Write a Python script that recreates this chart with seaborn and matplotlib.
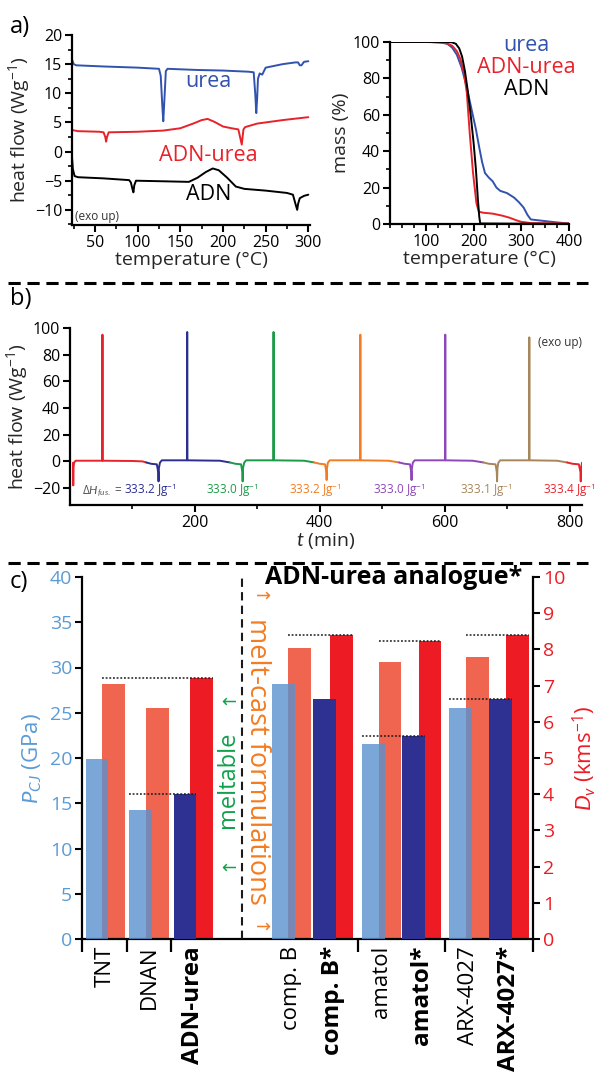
import matplotlib
matplotlib.use("Agg")
import matplotlib.pyplot as plt
from matplotlib.lines import Line2D
from matplotlib.ticker import MultipleLocator, FixedLocator
import pandas as pd
import seaborn as sns

# ---------------- data: panel a (DSC) ----------------
dsc_urea_T = [23, 25, 28, 60, 100, 125, 127, 129, 130, 131, 133, 135, 170, 200, 230, 236, 238, 239, 240, 241, 243, 246, 250, 270, 285, 288, 290, 292, 295, 300]
dsc_urea_H = [15.8, 15.0, 14.8, 14.6, 14.4, 14.2, 13.0, 7.5, 5.2, 8.0, 13.8, 14.2, 14.0, 13.9, 13.7, 13.6, 9.5, 6.6, 9.0, 12.5, 13.4, 13.2, 14.4, 15.0, 15.3, 15.3, 14.8, 14.8, 15.4, 15.5]
dsc_adnurea_T = [23, 30, 55, 60, 62, 63, 64, 66, 100, 130, 150, 165, 175, 182, 190, 200, 210, 218, 220, 222, 223, 224, 226, 240, 270, 300]
dsc_adnurea_H = [3.7, 3.5, 3.4, 3.3, 2.5, 1.7, 2.5, 3.3, 3.4, 3.6, 4.0, 4.8, 5.4, 5.6, 5.1, 4.3, 4.0, 3.8, 2.5, 1.2, 2.5, 3.8, 4.2, 4.8, 5.4, 5.9]
dsc_adn_T = [23, 24, 26, 30, 60, 90, 92, 94, 95, 96, 98, 130, 160, 170, 180, 188, 195, 205, 215, 225, 250, 275, 282, 285, 287, 288, 290, 295, 300]
dsc_adn_H = [-1.0, -3.0, -4.2, -4.4, -4.6, -4.9, -5.3, -6.5, -7.0, -5.8, -5.0, -5.1, -5.2, -4.5, -3.5, -2.9, -3.2, -4.5, -6.0, -6.4, -6.7, -7.1, -7.4, -9.0, -10.0, -9.0, -8.0, -7.6, -7.4]

# ---------------- data: panel a (TGA) ----------------
tga_urea_T = [25, 100, 130, 145, 155, 165, 175, 185, 195, 205, 212, 218, 224, 232, 240, 248, 256, 270, 285, 295, 305, 313, 320, 330, 350, 370, 390, 400]
tga_urea_M = [100, 100, 99.8, 99, 97, 93, 86, 76, 64, 52, 42, 34, 28, 25.5, 23.5, 20, 18.2, 17, 14.5, 12, 9, 5, 2.5, 2.2, 1.6, 1.0, 0.5, 0.4]
tga_adnurea_T = [25, 110, 140, 155, 165, 172, 180, 186, 192, 199, 206, 211, 220, 240, 260, 275, 290, 300, 320, 400]
tga_adnurea_M = [100, 100, 99.5, 98, 95, 91, 83, 72, 50, 28, 11.5, 6.8, 6.2, 5.7, 4.6, 3.5, 2.0, 1.2, 0.5, 0.3]
tga_adn_T = [25, 140, 155, 163, 170, 176, 182, 188, 194, 200, 205, 209, 212, 214, 400]
tga_adn_M = [100, 100, 99.8, 99, 96.5, 92, 84, 73, 60, 45, 30, 14, 4, 0.3, 0]

# ---------------- data: panel b (cycling DSC) ----------------
c1_t = [4.8, 5.2, 5.6, 6.5, 9, 51.5, 52.0, 52.5, 100, 116, 122]
c1_h = [-1, -18, -5, -1, 0.5, 0.5, 95, 0.5, 0.3, 0.0, -0.8]
c2_t = [122, 130, 139, 141.3, 141.8, 142.4, 144, 147, 187.3, 187.7, 188.1, 240, 256]
c2_h = [-0.8, -1.8, -2.2, -8, -15, -5, -1, 0.8, 0.8, 97, 0.8, 0.5, -0.8]
c3_t = [256, 265, 274, 276.0, 276.5, 277.1, 279, 282, 325.6, 326.0, 326.4, 375, 391]
c3_h = [-0.8, -1.8, -2.2, -8, -15, -5, -1, 0.8, 0.8, 97, 0.8, 0.5, -0.8]
c4_t = [391, 400, 408.5, 410.5, 411.0, 411.6, 413, 416, 464.6, 465.0, 465.4, 510, 527]
c4_h = [-0.8, -1.8, -2.2, -8, -14, -5, -1, 0.8, 0.8, 95, 0.8, 0.5, -0.8]
c5_t = [527, 536, 544.5, 546.5, 547.0, 547.6, 549, 552, 600.6, 601.0, 601.4, 645, 662]
c5_h = [-0.8, -1.8, -2.2, -8, -14, -5, -1, 0.8, 0.8, 95, 0.8, 0.5, -0.8]
c6_t = [662, 671, 681.5, 683.5, 684.0, 684.6, 686, 689, 735.2, 735.6, 736.0, 780, 796]
c6_h = [-0.8, -1.8, -2.2, -8, -15, -5, -1, 0.8, 0.8, 93, 0.8, 0.5, -0.8]
c7_t = [796, 805, 815, 817.5, 818.0, 818.6, 820]
c7_h = [-0.8, -1.8, -2.2, -8, -15, -5, -1]
enthalpy_labels = ["333.2 Jg$^{-1}$", "333.0 Jg$^{-1}$", "333.2 Jg$^{-1}$", "333.0 Jg$^{-1}$", "333.1 Jg$^{-1}$", "333.4 Jg$^{-1}$"]

# ---------------- data: panel c ----------------
cats = ["TNT", "DNAN", "ADN-urea", "comp. B", "comp. B*", "amatol", "amatol*", "ARX-4027", "ARX-4027*"]
p_cj = [19.9, 14.3, 16.0, 28.2, 26.5, 21.6, 22.4, 25.5, 26.5]
d_v = [7.05, 6.38, 7.2, 8.05, 8.4, 7.65, 8.22, 7.78, 8.4]
is_analogue = [False, False, True, False, True, False, True, False, True]
p_ref_pairs = [("DNAN", "ADN-urea"), ("amatol", "amatol*"), ("ARX-4027", "ARX-4027*")]
d_ref_pairs = [("TNT", "ADN-urea"), ("comp. B", "comp. B*"), ("amatol", "amatol*"), ("ARX-4027", "ARX-4027*")]

# ---------------- style ----------------
sns.set_theme(style="ticks")
FAM = ['Open Sans', 'DejaVu Sans']
plt.rcParams['font.family'] = FAM
plt.rcParams['mathtext.fontset'] = 'custom'
plt.rcParams['mathtext.rm'] = 'Open Sans'
plt.rcParams['mathtext.it'] = 'Lato:italic'
plt.rcParams['mathtext.bf'] = 'Open Sans:bold'
plt.rcParams['axes.linewidth'] = 1.6
plt.rcParams['axes.edgecolor'] = 'black'
plt.rcParams['xtick.color'] = 'black'
plt.rcParams['ytick.color'] = 'black'
plt.rcParams['text.color'] = 'black'

W, H = 598, 1086
fig = plt.figure(figsize=(W / 100, H / 100), dpi=100)


def rect(l, t, r, b):
    return [l / W, 1 - b / H, (r - l) / W, (b - t) / H]


def style(ax, labelsize=11.5):
    for s in ["top", "right"]:
        ax.spines[s].set_visible(False)
    ax.tick_params(which="major", direction="out", length=5, width=1.5, labelsize=labelsize, pad=2)
    ax.tick_params(which="minor", direction="out", length=3, width=1.2)


BLUE_A = "#3253ad"
RED_A = "#e8222a"

# ---------------- panel a: DSC ----------------
axA = fig.add_axes(rect(72, 35, 310, 225))
sns.lineplot(x=dsc_urea_T, y=dsc_urea_H, ax=axA, color=BLUE_A, lw=1.4, sort=False, estimator=None)
sns.lineplot(x=dsc_adnurea_T, y=dsc_adnurea_H, ax=axA, color=RED_A, lw=1.4, sort=False, estimator=None)
sns.lineplot(x=dsc_adn_T, y=dsc_adn_H, ax=axA, color="black", lw=1.4, sort=False, estimator=None)
axA.set_xlim(23, 302)
axA.set_ylim(-12.6, 20)
axA.xaxis.set_major_locator(FixedLocator([50, 100, 150, 200, 250, 300]))
axA.xaxis.set_minor_locator(MultipleLocator(25))
axA.yaxis.set_major_locator(MultipleLocator(5))
axA.yaxis.set_minor_locator(MultipleLocator(2.5))
style(axA)
axA.set_xlabel("temperature (°C)", fontsize=14, labelpad=0)
axA.set_ylabel("heat flow (Wg$^{-1}$)", fontsize=14, labelpad=2)
axA.text(183, 12.0, "urea", color=BLUE_A, fontsize=15.5, ha="center", va="center")
axA.text(183, -0.6, "ADN-urea", color=RED_A, fontsize=15.5, ha="center", va="center")
axA.text(183, -7.4, "ADN", color="black", fontsize=15.5, ha="center", va="center")
axA.text(26, -11.2, "(exo up)", color="#333333", fontsize=8.5, ha="left", va="center")

# ---------------- panel a: TGA ----------------
axT = fig.add_axes(rect(390, 42, 569, 224))
sns.lineplot(x=tga_urea_T, y=tga_urea_M, ax=axT, color=BLUE_A, lw=1.4, sort=False, estimator=None)
sns.lineplot(x=tga_adnurea_T, y=tga_adnurea_M, ax=axT, color=RED_A, lw=1.4, sort=False, estimator=None)
sns.lineplot(x=tga_adn_T, y=tga_adn_M, ax=axT, color="black", lw=1.4, sort=False, estimator=None)
axT.set_xlim(25, 400)
axT.set_ylim(0, 100)
axT.xaxis.set_major_locator(FixedLocator([100, 200, 300, 400]))
axT.xaxis.set_minor_locator(MultipleLocator(25))
axT.yaxis.set_major_locator(MultipleLocator(20))
axT.yaxis.set_minor_locator(MultipleLocator(10))
style(axT)
axT.set_xlabel("temperature (°C)", fontsize=14, labelpad=0)
axT.set_ylabel("mass (%)", fontsize=14, labelpad=2)
axT.text(311, 98, "urea", color=BLUE_A, fontsize=15.5, ha="center", va="center", clip_on=False)
axT.text(311, 86, "ADN-urea", color=RED_A, fontsize=15.5, ha="center", va="center", clip_on=False)
axT.text(311, 74, "ADN", color="black", fontsize=15.5, ha="center", va="center", clip_on=False)

# ---------------- panel b ----------------
cyc_colors = {"c1": "#e8222a", "c2": "#2b2f8f", "c3": "#1d9a48", "c4": "#f47b20",
              "c5": "#8d47b8", "c6": "#a7865c", "c7": "#e8222a"}
frames = []
for name, tt, hh in [("c1", c1_t, c1_h), ("c2", c2_t, c2_h), ("c3", c3_t, c3_h), ("c4", c4_t, c4_h),
                     ("c5", c5_t, c5_h), ("c6", c6_t, c6_h), ("c7", c7_t, c7_h)]:
    frames.append(pd.DataFrame({"t": tt, "hf": hh, "cycle": name}))
dfb = pd.concat(frames, ignore_index=True)
axB = fig.add_axes(rect(70, 328, 582, 505))
sns.lineplot(data=dfb, x="t", y="hf", hue="cycle", palette=cyc_colors, ax=axB, lw=1.4,
             sort=False, estimator=None, legend=False)
axB.set_xlim(0, 820)
axB.set_ylim(-32.7, 100)
axB.xaxis.set_major_locator(FixedLocator([200, 400, 600, 800]))
axB.xaxis.set_minor_locator(FixedLocator([100, 300, 500, 700]))
axB.yaxis.set_major_locator(MultipleLocator(20))
style(axB)
axB.set_xlabel("$\\mathit{t}$ (min)", fontsize=14, labelpad=0)
axB.set_ylabel("heat flow (Wg$^{-1}$)", fontsize=14, labelpad=2)
axB.text(84, -22, "Δ$\\mathit{H}_{\\mathit{fus.}}$ =", color="#555555", fontsize=8.5, ha="right", va="center")
label_starts = [87, 218, 350, 485, 625, 757]
label_colors = ["#2b2f8f", "#1d9a48", "#f47b20", "#8d47b8", "#a7865c", "#e8222a"]
for xs, txt, col in zip(label_starts, enthalpy_labels, label_colors):
    axB.text(xs, -22, txt, color=col, fontsize=8.5, ha="left", va="center", clip_on=False)
axB.text(785, 89, "(exo up)", color="#333333", fontsize=8.5, ha="center", va="center", clip_on=False)

# ---------------- panel c ----------------
LB = "#5a91cf"
SAL = "#f0654f"
DB = "#2e3192"
RD = "#ed1c24"
GRN = "#12a04c"
ORG = "#f47b20"
centers = [0.53, 1.52, 2.53, 4.76, 5.70, 6.81, 7.72, 8.79, 9.71]
off, bw = 0.19, 0.52
idx = {c: i for i, c in enumerate(cats)}

axC = fig.add_axes(rect(82, 577, 533, 939))
axC2 = axC.twinx()
axC.set_zorder(2)
axC2.set_zorder(1)
axC.patch.set_visible(False)

for i, c in enumerate(cats):
    axC2.bar(centers[i] + off, d_v[i], bw, color=RD if is_analogue[i] else SAL, lw=0)
    if is_analogue[i]:
        axC.bar(centers[i] - off, p_cj[i], bw, color=DB, lw=0, zorder=3)
    else:
        axC.bar(centers[i] - off, p_cj[i], bw, color=LB, alpha=0.8, lw=0, zorder=3)

for a, b in p_ref_pairs:
    axC.hlines(p_cj[idx[b]], centers[idx[a]] - off - bw / 2, centers[idx[b]] - off + bw / 2,
               colors="k", linestyles=(0, (1.2, 1.2)), lw=1.1, zorder=4)
for a, b in d_ref_pairs:
    axC2.hlines(d_v[idx[b]], centers[idx[a]] + off - bw / 2, centers[idx[b]] + off + bw / 2,
                colors="k", linestyles=(0, (1.2, 1.2)), lw=1.1, zorder=4)

axC.set_xlim(0, 10.25)
axC.set_ylim(0, 40)
axC2.set_ylim(0, 10)
for s in ["top", "right"]:
    axC.spines[s].set_visible(False)
for s in ["top", "left", "bottom"]:
    axC2.spines[s].set_visible(False)
axC2.spines["right"].set_linewidth(1.6)

axC.set_xticks([0, 1.02, 2.02, 6.27, 8.25, 10.25])
axC.set_xticklabels([])
axC.set_xticks(centers, cats, minor=True)
axC.tick_params(axis="x", which="major", direction="out", length=9, width=1.6)
axC.tick_params(axis="x", which="minor", length=0, labelsize=16, labelrotation=90, pad=5)
for lab, an in zip(axC.get_xticklabels(minor=True), is_analogue):
    if an:
        lab.set_fontweight("bold")
        lab.set_fontsize(17.5)

axC.yaxis.set_major_locator(MultipleLocator(5))
axC.tick_params(axis="y", direction="out", length=5, width=1.5, labelsize=14, labelcolor="#5b9bd5", pad=2)
axC2.yaxis.set_major_locator(MultipleLocator(1))
axC2.tick_params(axis="y", direction="out", length=5, width=1.5, labelsize=14, labelcolor=RD, pad=2)
axC.set_ylabel("$\\mathit{P}_{\\mathit{CJ}}$ (GPa)", fontsize=16, color="#5b9bd5", labelpad=4)
axC2.set_ylabel("$\\mathit{D}_{\\mathit{v}}$ (kms$^{-1}$)", fontsize=16, color=RD, labelpad=4)

axC.axvline(3.63, ymin=0, ymax=1.0, color="k", lw=1.5, ls=(0, (4, 2.5)), zorder=5)
axC.text(10.0, 39.9, "ADN-urea analogue*", fontsize=18, fontweight="bold", ha="right", va="center",
         clip_on=False, zorder=6)
# "meltable" with its two arrows
axC.text(3.32, 17.6, "meltable", color=GRN, fontsize=17, rotation=90, ha="center", va="center")
for yv in [26.7, 8.4]:
    axC.text(3.32, yv, "↑", color=GRN, fontsize=13, rotation=90, ha="center", va="center",
             family=["DejaVu Sans"])
# "melt-cast formulations" with its two arrows
axC.text(3.98, 19.6, "melt-cast formulations", color=ORG, fontsize=19.5, rotation=-90,
         ha="center", va="center")
for yv in [37.7, 1.2]:
    axC.text(3.98, yv, "↑", color=ORG, fontsize=13, rotation=-90, ha="center", va="center",
             family=["DejaVu Sans"])

# ---------------- panel labels and separators ----------------
fig.text(10 / W, 1 - 27 / H, "a)", fontsize=17, ha="left", va="center")
fig.text(10 / W, 1 - 299 / H, "b)", fontsize=17, ha="left", va="center")
fig.text(10 / W, 1 - 582 / H, "c)", fontsize=17, ha="left", va="center")
for yy in [283, 563]:
    fig.add_artist(Line2D([8 / W, 588 / W], [1 - yy / H, 1 - yy / H], transform=fig.transFigure,
                          color="black", lw=2.2, ls=(0, (4, 2.2))))

fig.savefig("out.png", dpi=100)
